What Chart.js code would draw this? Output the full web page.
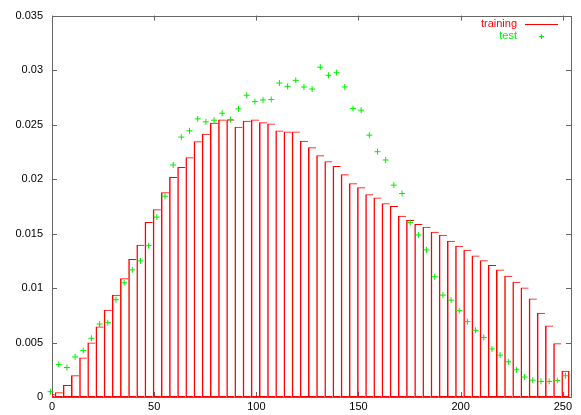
<!DOCTYPE html>
<html>
<head>
<meta charset="utf-8">
<script src="https://cdn.jsdelivr.net/npm/chart.js@4/dist/chart.umd.min.js"></script>
<style>
  body { margin: 0; background: #ffffff; }
  canvas { display: block; }
</style>
</head>
<body>
<canvas id="myChart" width="581" height="415"></canvas>
<script>
// bin centres (x), one bin every 4 units
const binCenters = [
    -0.7, 3.3, 7.3, 11.3, 15.3, 19.3, 23.3, 27.3, 31.3, 35.3, 39.3, 43.3, 47.3, 51.3, 55.3, 59.3,
    63.3, 67.3, 71.3, 75.3, 79.3, 83.3, 87.3, 91.3, 95.3, 99.3, 103.3, 107.3, 111.3, 115.3, 119.3, 123.3,
    127.3, 131.3, 135.3, 139.3, 143.3, 147.3, 151.3, 155.3, 159.3, 163.3, 167.3, 171.3, 175.3, 179.3, 183.3, 187.3,
    191.3, 195.3, 199.3, 203.3, 207.3, 211.3, 215.3, 219.3, 223.3, 227.3, 231.3, 235.3, 239.3, 243.3, 247.3, 251.3
];

const trainingValues = [
    0.0003, 0.00043, 0.0011, 0.0020, 0.00363, 0.0050, 0.00646, 0.0080, 0.00938, 0.0109, 0.01267, 0.01398, 0.01605, 0.01724, 0.0188, 0.0202,
    0.0211, 0.0220, 0.02348, 0.02415, 0.02516, 0.02546, 0.02546, 0.0248, 0.02534, 0.02546, 0.02522, 0.0251, 0.02446, 0.02437, 0.02437, 0.02351,
    0.02291, 0.02218, 0.02163, 0.0212, 0.02044, 0.01962, 0.01925, 0.01861, 0.0183, 0.01779, 0.01752, 0.01663, 0.01624, 0.01587, 0.01563, 0.01517,
    0.0149, 0.01435, 0.01389, 0.01352, 0.01298, 0.01255, 0.01212, 0.0117, 0.01112, 0.01057, 0.01005, 0.00905, 0.00774, 0.00655, 0.00493, 0.0024
];

const testValues = [
    0.00049, 0.00299, 0.00271, 0.00368, 0.00426, 0.00539, 0.0067, 0.00682, 0.00893, 0.01048, 0.01167, 0.01249, 0.01389, 0.01651, 0.01843, 0.02129,
    0.02385, 0.02443, 0.02552, 0.02525, 0.0254, 0.02604, 0.02546, 0.02644, 0.02769, 0.02711, 0.02726, 0.0273, 0.02881, 0.02851, 0.02906, 0.02845,
    0.02826, 0.03027, 0.02952, 0.02976, 0.02845, 0.02647, 0.02632, 0.02403, 0.02251, 0.02175, 0.01944, 0.01867, 0.01602, 0.01487, 0.0135, 0.01103,
    0.00935, 0.00889, 0.00792, 0.00692, 0.00612, 0.00546, 0.00441, 0.00384, 0.00323, 0.0025, 0.00183, 0.00155, 0.00143, 0.00143, 0.00152, 0.00195
];

const xTicks = [0, 50, 100, 150, 200, 250];
const yTicks = [0, 0.005, 0.01, 0.015, 0.02, 0.025, 0.03, 0.035];

const seriesNames = ['training', 'test'];
const seriesColors = ['#ff0000', '#00ee00'];

const FONT = { family: '"Liberation Sans", Arial, sans-serif', size: 11 };
const AXIS_COLOR = '#666666';

// gnuplot-like frame with inward ticks on all four sides + key in the top right
const framePlugin = {
    id: 'frame',
    beforeDraw(chart) {
        const ctx = chart.ctx;
        ctx.save();
        ctx.fillStyle = '#ffffff';
        ctx.fillRect(0, 0, chart.width, chart.height);
        ctx.restore();
    },
    beforeDatasetsDraw(chart) {
        const ctx = chart.ctx;
        const a = chart.chartArea;
        const xs = chart.scales.x;
        const ys = chart.scales.y;
        const len = 5;
        ctx.save();
        ctx.strokeStyle = AXIS_COLOR;
        ctx.lineWidth = 1;
        ctx.strokeRect(Math.round(a.left) + 0.5, Math.round(a.top) + 0.5,
            Math.round(a.right - a.left), Math.round(a.bottom - a.top));
        ctx.beginPath();
        xTicks.forEach(v => {
            const px = Math.round(xs.getPixelForValue(v)) + 0.5;
            ctx.moveTo(px, a.bottom); ctx.lineTo(px, a.bottom - len);
            ctx.moveTo(px, a.top); ctx.lineTo(px, a.top + len);
        });
        yTicks.forEach(v => {
            const py = Math.round(ys.getPixelForValue(v)) + 0.5;
            ctx.moveTo(a.left, py); ctx.lineTo(a.left + len, py);
            ctx.moveTo(a.right, py); ctx.lineTo(a.right - len, py);
        });
        ctx.stroke();
        ctx.restore();
    },
    afterDraw(chart) {
        const ctx = chart.ctx;
        ctx.save();
        ctx.font = FONT.size + 'px ' + FONT.family;
        ctx.textAlign = 'right';
        ctx.textBaseline = 'middle';
        // training
        ctx.fillStyle = seriesColors[0];
        ctx.fillText(seriesNames[0], 517, 24);
        ctx.strokeStyle = seriesColors[0];
        ctx.lineWidth = 1;
        ctx.beginPath();
        ctx.moveTo(525, 24.5); ctx.lineTo(558, 24.5);
        ctx.stroke();
        // test
        ctx.fillStyle = seriesColors[1];
        ctx.fillText(seriesNames[1], 517, 36);
        ctx.strokeStyle = seriesColors[1];
        ctx.beginPath();
        ctx.moveTo(539, 36.5); ctx.lineTo(544, 36.5);
        ctx.moveTo(541.5, 34); ctx.lineTo(541.5, 39);
        ctx.stroke();
        ctx.restore();
    }
};

const lastBar = binCenters.length - 1;

var config = {
    type: 'bar',
    data: {
        datasets: [{
            type: 'bar',
            label: seriesNames[0],
            data: binCenters.map((x, i) => ({ x: x, y: trainingValues[i] })),
            backgroundColor: 'rgba(255,255,255,0)',
            borderColor: seriesColors[0],
            // neighbouring boxes share an edge, so only the last one gets a right side
            borderWidth: ctx => ctx.dataIndex === lastBar
                ? { left: 1.5, top: 1, right: 1.5, bottom: 1 }
                : { left: 1.5, top: 1, right: 0, bottom: 1 },
            borderSkipped: false,
            inflateAmount: 0,
            barPercentage: 1,
            categoryPercentage: 1,
            order: 2
        }, {
            type: 'scatter',
            label: seriesNames[1],
            data: binCenters.map((x, i) => ({ x: x, y: testValues[i] })),
            showLine: false,
            pointStyle: 'cross',
            pointRadius: 3,
            pointBorderWidth: 1,
            borderColor: seriesColors[1],
            backgroundColor: seriesColors[1],
            clip: 6,
            order: 1
        }]
    },
    options: {
        responsive: false,
        animation: false,
        events: [],
        layout: { padding: { top: 14, right: 10, left: 0, bottom: 0 } },
        plugins: {
            legend: { display: false },
            tooltip: { enabled: false }
        },
        scales: {
            x: {
                type: 'linear',
                offset: false,
                min: 0,
                max: 254,
                grid: { display: false, drawTicks: false },
                border: { display: false },
                afterBuildTicks: scale => { scale.ticks = xTicks.map(v => ({ value: v })); },
                afterFit: scale => { scale.height = 18; },
                ticks: {
                    color: '#000000',
                    font: FONT,
                    padding: 3,
                    maxRotation: 0,
                    autoSkip: false,
                    callback: v => String(v)
                }
            },
            y: {
                type: 'linear',
                min: 0,
                max: 0.035,
                grid: { display: false, drawTicks: false },
                border: { display: false },
                afterBuildTicks: scale => { scale.ticks = yTicks.map(v => ({ value: v })); },
                afterFit: scale => { scale.width = 52; },
                ticks: {
                    color: '#000000',
                    font: FONT,
                    padding: 9,
                    autoSkip: false,
                    callback: v => String(parseFloat(v.toFixed(4)))
                }
            }
        }
    },
    plugins: [framePlugin]
};

var ctx = document.getElementById('myChart').getContext('2d');
window.myHist = new Chart(ctx, config);
</script>
</body>
</html>
